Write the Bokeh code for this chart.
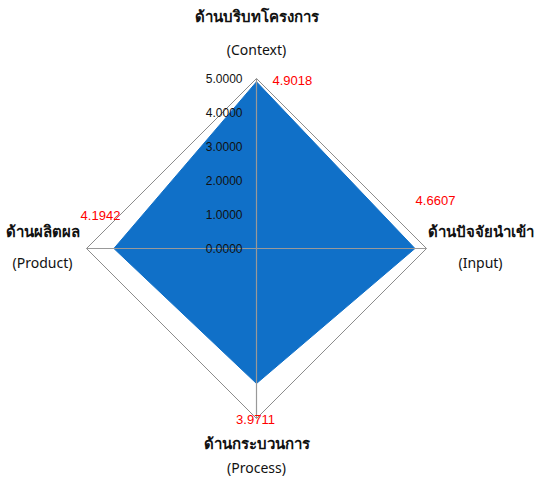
import math
from bokeh.plotting import figure
from bokeh.models import Range1d
from bokeh.embed import file_html
from bokeh.resources import INLINE
from bokeh.core.properties import value

# ---- data ----
categories_th = ["ด้านบริบทโครงการ", "ด้านปัจจัยนำเข้า", "ด้านกระบวนการ", "ด้านผลิตผล"]
categories_en = ["(Context)", "(Input)", "(Process)", "(Product)"]
scores = [4.9018, 4.6607, 3.9711, 4.1942]
score_labels = ["4.9018", "4.6607", "3.9711", "4.1942"]
tick_values = [0, 1, 2, 3, 4, 5]
tick_labels = ["0.0000", "1.0000", "2.0000", "3.0000", "4.0000", "5.0000"]
max_value = 5

# ---- layout ----
W, H = 534, 479
PX = 34.0            # pixels per unit
CX, CY = 256, 248    # centre in figure pixels (from left / top)

p = figure(width=W, height=H, output_backend="svg", toolbar_location=None,
           x_range=Range1d(-CX / PX, (W - CX) / PX),
           y_range=Range1d(-(H - CY) / PX, CY / PX),
           min_border=0)
p.axis.visible = False
p.grid.visible = False
p.outline_line_color = None
p.background_fill_color = "white"

# angles: top, right, bottom, left (clockwise from top)
angles = [math.pi / 2 - i * 2 * math.pi / len(scores) for i in range(len(scores))]

def pt(r, a):
    return r * math.cos(a), r * math.sin(a)

outer = [pt(max_value, a) for a in angles]
p.patch([q[0] for q in outer], [q[1] for q in outer], fill_color=None,
        line_color="#8c8c8c", line_width=1)

data_pts = [pt(v, a) for v, a in zip(scores, angles)]
p.patch([q[0] for q in data_pts], [q[1] for q in data_pts],
        fill_color="#1070C8", line_color="#1070C8", line_width=1)

# axis spokes
p.segment(x0=[0] * len(angles), y0=[0] * len(angles),
          x1=[q[0] for q in outer], y1=[q[1] for q in outer],
          line_color="#999999", line_width=1.2)

# tick labels along top spoke
p.text(x=[0] * len(tick_values), y=tick_values, text=tick_labels,
       x_offset=-14, text_align="right", text_baseline="middle",
       text_font=value("Liberation Sans"), text_font_size="12px", text_color="#111111")

# value labels (offsets in pixels relative to outer vertex)
val_off = [(16, -2, "left"), (9, 48, "center"), (-1, -1, "center"), (14, 33, "center")]
for (ox, oy), t, (dx, dy, al) in zip(outer, score_labels, val_off):
    p.text(x=[ox + dx / PX], y=[oy + dy / PX], text=[t], text_align=al, text_baseline="middle",
           text_font=value("Liberation Sans"), text_font_size="13px", text_color="#ff0000")

# category labels: (dx, dy thai, dy english) in pixels relative to outer vertex
cat_off = [(0, 63, 29), (54, 18, -14), (0, -24, -49), (-44, 18, -14)]
for (ox, oy), th, en, (dx, dyt, dye) in zip(outer, categories_th, categories_en, cat_off):
    p.text(x=[ox + dx / PX], y=[oy + dyt / PX], text=[th], text_align="center",
           text_baseline="middle", text_font=value("Noto Sans"), text_font_size="15px",
           text_font_style="bold", text_color="#111111")
    p.text(x=[ox + dx / PX], y=[oy + dye / PX], text=[en], text_align="center",
           text_baseline="middle", text_font=value("Noto Sans"), text_font_size="14px",
           text_color="#111111")

open("out.html", "w").write(file_html(p, INLINE))
